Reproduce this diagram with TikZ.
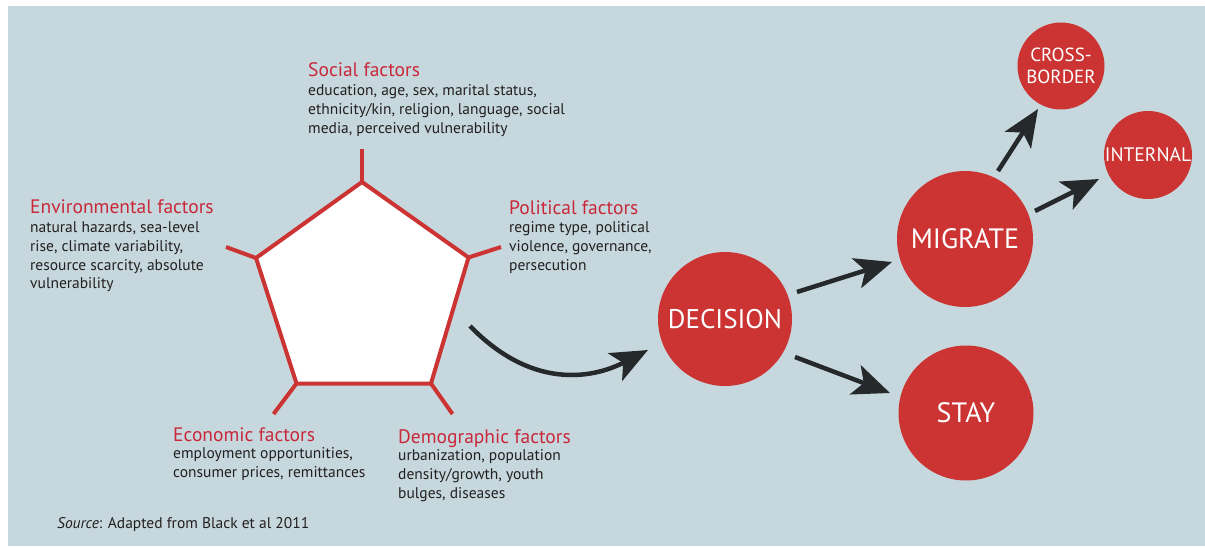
\documentclass[tikz,border=0pt]{standalone}
\usepackage{fontspec}
\setmainfont{PT Sans}
\usetikzlibrary{arrows.meta}
\definecolor{bgc}{HTML}{C6D8DD}
\definecolor{redc}{HTML}{CC3434}
\definecolor{titlec}{HTML}{C9283A}
\definecolor{arrc}{HTML}{26292B}
\definecolor{txtc}{HTML}{231F20}
\tikzset{
  ftitle/.style={anchor=base west, inner sep=0, text=titlec, font=\fontsize{19.5}{21}\selectfont},
  fbody/.style={anchor=north west, inner sep=0, text=txtc, font=\fontsize{15.5}{18.8}\selectfont, align=left},
  bubble/.style={circle, fill=redc, text=white, inner sep=0, align=center},
  flow/.style={draw=arrc, line width=4.5pt, -{Stealth[length=37pt, width=31pt, inset=9pt]}},
  spike/.style={draw=redc, line width=4pt},
}
\begin{document}
\begin{tikzpicture}[x=1pt,y=-1pt]
\useasboundingbox (0,0) rectangle (1205,548);
\fill[white] (0,0) rectangle (1205,548);
\fill[bgc] (8,6) rectangle (1205,546);
% pentagon
\coordinate (pt) at (362,182);
\coordinate (pur) at (468.5,257.5);
\coordinate (plr) at (431,383.5);
\coordinate (pll) at (296.5,383.5);
\coordinate (pul) at (256,258);
\filldraw[fill=white, draw=redc, line width=4pt, line join=miter] (pt) -- (pur) -- (plr) -- (pll) -- (pul) -- cycle;
\coordinate (st) at (362,149);
\coordinate (sur) at (501,247);
\coordinate (slr) at (452.5,414);
\coordinate (sll) at (273.5,414);
\coordinate (sul) at (226,247);
\draw[spike] (pt) -- (st);
\draw[spike] (pur) -- (sur);
\draw[spike] (plr) -- (slr);
\draw[spike] (pll) -- (sll);
\draw[spike] (pul) -- (sul);
% factor texts
\node[ftitle] (soct) at (308,77) {Social factors};
\node[fbody] (socb) at (308,84.5) {education, age, sex, marital status,\\ethnicity/kin, religion, language, social\\media, perceived vulnerability};
\node[ftitle] (envt) at (30,214) {Environmental factors};
\node[fbody] (envb) at (30,221.5) {natural hazards, sea-level\\rise, climate variability,\\resource scarcity, absolute\\vulnerability};
\node[ftitle] (polt) at (509,215) {Political factors};
\node[fbody] (polb) at (509,221.5) {regime type, political\\violence, governance,\\persecution};
\node[ftitle] (ecot) at (173,441) {Economic factors};
\node[fbody] (ecob) at (173,447.5) {employment opportunities,\\consumer prices, remittances};
\node[ftitle] (demt) at (398,443) {Demographic factors};
\node[fbody] (demb) at (398,449.5) {urbanization, population\\density/growth, youth\\bulges, diseases};
\node[anchor=base west, inner sep=0, text=txtc, font=\fontsize{15.5}{18}\selectfont] (src) at (57,528) {\textit{Source}: Adapted from Black et al 2011};
% bubbles
\node[bubble, minimum size=134pt, font=\fontsize{27}{29}\selectfont] (dec) at (725,319) {DECISION};
\node[bubble, minimum size=136pt, font=\fontsize{28}{30}\selectfont] (mig) at (965,239) {MIGRATE};
\node[bubble, minimum size=135pt, font=\fontsize{28}{30}\selectfont] (stay) at (966,413) {STAY};
\node[bubble, minimum size=87pt, font=\fontsize{19}{22.5}\selectfont] (cross) at (1061,66) {CROSS-\\BORDER};
\node[bubble, minimum size=88pt, font=\fontsize{19.5}{21}\selectfont] (int) at (1148,155) {INTERNAL};
% arrow ends
\coordinate (cs) at (470,326);
\coordinate (ce) at (648,350);
\coordinate (dm1) at (797,292);
\coordinate (dm2) at (892,262);
\coordinate (ds1) at (795,357);
\coordinate (ds2) at (890,393);
\coordinate (mc1) at (998,171);
\coordinate (mc2) at (1038,109);
\coordinate (mi1) at (1035,211);
\coordinate (mi2) at (1099,179);
% arrows
\draw[flow] (cs) .. controls (530,388) and (590,380) .. (ce);
\draw[flow] (dm1) -- (dm2);
\draw[flow] (ds1) -- (ds2);
\draw[flow] (mc1) -- (mc2);
\draw[flow] (mi1) -- (mi2);
\end{tikzpicture}
\end{document}
